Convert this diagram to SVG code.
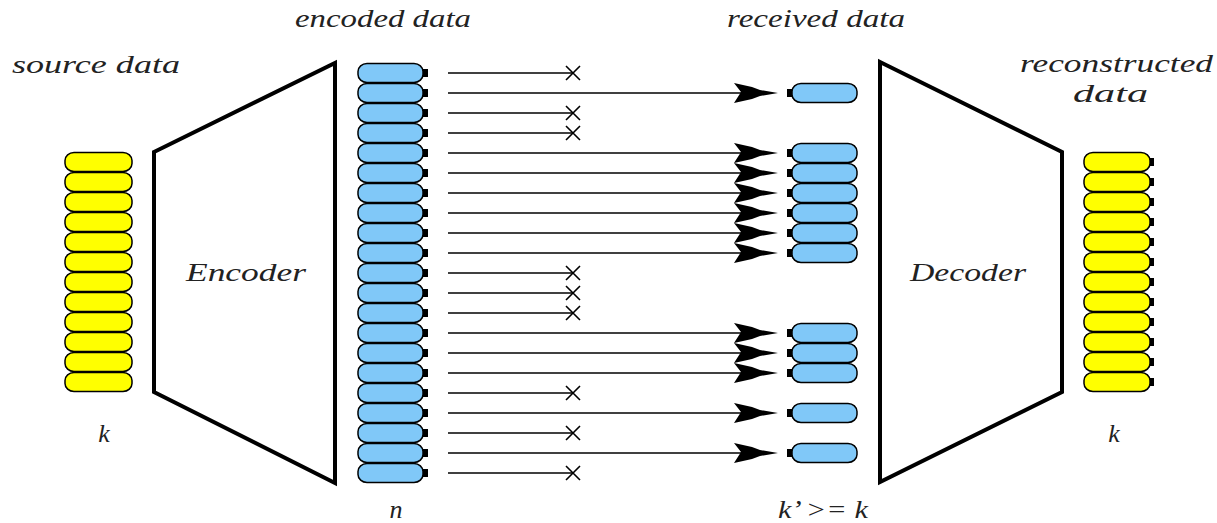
<svg xmlns="http://www.w3.org/2000/svg" xmlns:xlink="http://www.w3.org/1999/xlink" width="1217" height="523" viewBox="0 0 1217 523">
  <style>
    .lbl { font-family: "Liberation Serif", "DejaVu Serif", serif; font-style: italic; font-size: 26px; fill: #222; }
    .box { fill: #fff; stroke: #000; stroke-width: 4; stroke-linejoin: miter; }
    .wire { stroke: #000; stroke-width: 1.6; fill: none; }
    .lost { stroke: #000; stroke-width: 1.6; fill: none; }
  </style>
  <defs>
    <!-- yellow source / reconstructed packet -->
    <g id="ycell">
      <rect x="0" y="0.5" width="67" height="19" rx="9" ry="8" fill="#ffff00" stroke="#000" stroke-width="1.5"/>
    </g>
    <g id="ycellR">
      <rect x="0" y="0.5" width="66" height="19" rx="9" ry="8" fill="#ffff00" stroke="#000" stroke-width="1.5"/>
      <rect x="66" y="6" width="4" height="8" fill="#000"/>
    </g>
    <!-- blue encoded packet, notch on right -->
    <g id="bcellR">
      <rect x="0" y="0.5" width="65" height="19" rx="9" ry="8" fill="#80c8f8" stroke="#000" stroke-width="1.5"/>
      <rect x="65" y="6" width="5" height="8" fill="#000"/>
    </g>
    <!-- blue received packet, notch on left -->
    <g id="bcellL">
      <rect x="0" y="6" width="5" height="8" fill="#000"/>
      <rect x="5" y="0.5" width="65" height="19" rx="9" ry="8" fill="#80c8f8" stroke="#000" stroke-width="1.5"/>
    </g>
    <!-- barbed arrowhead, tip at origin -->
    <polygon id="head" points="0,0 -18,-3 -26,-6 -44,-10 -37,-1 -44,10 -26,6 -18,3" fill="#000"/>
    <!-- cross marking a dropped packet -->
    <path id="cross" d="M-7,-7 L7,7 M-7,7 L7,-7" stroke="#000" stroke-width="1.6" fill="none"/>
  </defs>

  <rect width="1217" height="523" fill="#fff"/>

  <!-- source data -->
  <g id="source-data">
    <text class="lbl" x="12" y="73" textLength="168" lengthAdjust="spacingAndGlyphs">source data</text>
    <use xlink:href="#ycell" x="65" y="152"/>
    <use xlink:href="#ycell" x="65" y="172"/>
    <use xlink:href="#ycell" x="65" y="192"/>
    <use xlink:href="#ycell" x="65" y="212"/>
    <use xlink:href="#ycell" x="65" y="232"/>
    <use xlink:href="#ycell" x="65" y="252"/>
    <use xlink:href="#ycell" x="65" y="272"/>
    <use xlink:href="#ycell" x="65" y="292"/>
    <use xlink:href="#ycell" x="65" y="312"/>
    <use xlink:href="#ycell" x="65" y="332"/>
    <use xlink:href="#ycell" x="65" y="352"/>
    <use xlink:href="#ycell" x="65" y="372"/>
    <text class="lbl" x="104" y="442" text-anchor="middle">k</text>
  </g>

  <!-- encoder -->
  <g id="encoder">
    <polygon class="box" points="154,152 335,63 335,483 154,392"/>
    <text class="lbl" x="246" y="281" text-anchor="middle" textLength="120" lengthAdjust="spacingAndGlyphs">Encoder</text>
  </g>

  <!-- encoded data, n packets -->
  <g id="encoded-data">
    <text class="lbl" x="295" y="27" textLength="176" lengthAdjust="spacingAndGlyphs">encoded data</text>
    <use xlink:href="#bcellR" x="358" y="63"/>
    <use xlink:href="#bcellR" x="358" y="83"/>
    <use xlink:href="#bcellR" x="358" y="103"/>
    <use xlink:href="#bcellR" x="358" y="123"/>
    <use xlink:href="#bcellR" x="358" y="143"/>
    <use xlink:href="#bcellR" x="358" y="163"/>
    <use xlink:href="#bcellR" x="358" y="183"/>
    <use xlink:href="#bcellR" x="358" y="203"/>
    <use xlink:href="#bcellR" x="358" y="223"/>
    <use xlink:href="#bcellR" x="358" y="243"/>
    <use xlink:href="#bcellR" x="358" y="263"/>
    <use xlink:href="#bcellR" x="358" y="283"/>
    <use xlink:href="#bcellR" x="358" y="303"/>
    <use xlink:href="#bcellR" x="358" y="323"/>
    <use xlink:href="#bcellR" x="358" y="343"/>
    <use xlink:href="#bcellR" x="358" y="363"/>
    <use xlink:href="#bcellR" x="358" y="383"/>
    <use xlink:href="#bcellR" x="358" y="403"/>
    <use xlink:href="#bcellR" x="358" y="423"/>
    <use xlink:href="#bcellR" x="358" y="443"/>
    <use xlink:href="#bcellR" x="358" y="463"/>
    <text class="lbl" x="396" y="518" text-anchor="middle">n</text>
  </g>

  <!-- transmission: delivered packets end in arrowheads, dropped ones in a cross -->
  <g id="connectors">
    <line class="lost" x1="448" y1="73" x2="573" y2="73"/><use xlink:href="#cross" x="573" y="73"/>
    <line class="wire" x1="448" y1="93" x2="760" y2="93"/><use xlink:href="#head" x="778" y="93"/>
    <line class="lost" x1="448" y1="113" x2="573" y2="113"/><use xlink:href="#cross" x="573" y="113"/>
    <line class="lost" x1="448" y1="133" x2="573" y2="133"/><use xlink:href="#cross" x="573" y="133"/>
    <line class="wire" x1="448" y1="153" x2="760" y2="153"/><use xlink:href="#head" x="778" y="153"/>
    <line class="wire" x1="448" y1="173" x2="760" y2="173"/><use xlink:href="#head" x="778" y="173"/>
    <line class="wire" x1="448" y1="193" x2="760" y2="193"/><use xlink:href="#head" x="778" y="193"/>
    <line class="wire" x1="448" y1="213" x2="760" y2="213"/><use xlink:href="#head" x="778" y="213"/>
    <line class="wire" x1="448" y1="233" x2="760" y2="233"/><use xlink:href="#head" x="778" y="233"/>
    <line class="wire" x1="448" y1="253" x2="760" y2="253"/><use xlink:href="#head" x="778" y="253"/>
    <line class="lost" x1="448" y1="273" x2="573" y2="273"/><use xlink:href="#cross" x="573" y="273"/>
    <line class="lost" x1="448" y1="293" x2="573" y2="293"/><use xlink:href="#cross" x="573" y="293"/>
    <line class="lost" x1="448" y1="313" x2="573" y2="313"/><use xlink:href="#cross" x="573" y="313"/>
    <line class="wire" x1="448" y1="333" x2="760" y2="333"/><use xlink:href="#head" x="778" y="333"/>
    <line class="wire" x1="448" y1="353" x2="760" y2="353"/><use xlink:href="#head" x="778" y="353"/>
    <line class="wire" x1="448" y1="373" x2="760" y2="373"/><use xlink:href="#head" x="778" y="373"/>
    <line class="lost" x1="448" y1="393" x2="573" y2="393"/><use xlink:href="#cross" x="573" y="393"/>
    <line class="wire" x1="448" y1="413" x2="760" y2="413"/><use xlink:href="#head" x="778" y="413"/>
    <line class="lost" x1="448" y1="433" x2="573" y2="433"/><use xlink:href="#cross" x="573" y="433"/>
    <line class="wire" x1="448" y1="453" x2="760" y2="453"/><use xlink:href="#head" x="778" y="453"/>
    <line class="lost" x1="448" y1="473" x2="573" y2="473"/><use xlink:href="#cross" x="573" y="473"/>
  </g>

  <!-- received data, k' packets -->
  <g id="received-data">
    <text class="lbl" x="727" y="27" textLength="178" lengthAdjust="spacingAndGlyphs">received data</text>
    <use xlink:href="#bcellL" x="787" y="83"/>
    <use xlink:href="#bcellL" x="787" y="143"/>
    <use xlink:href="#bcellL" x="787" y="163"/>
    <use xlink:href="#bcellL" x="787" y="183"/>
    <use xlink:href="#bcellL" x="787" y="203"/>
    <use xlink:href="#bcellL" x="787" y="223"/>
    <use xlink:href="#bcellL" x="787" y="243"/>
    <use xlink:href="#bcellL" x="787" y="323"/>
    <use xlink:href="#bcellL" x="787" y="343"/>
    <use xlink:href="#bcellL" x="787" y="363"/>
    <use xlink:href="#bcellL" x="787" y="403"/>
    <use xlink:href="#bcellL" x="787" y="443"/>
    <text class="lbl" x="778" y="518" textLength="90" lengthAdjust="spacingAndGlyphs">k’ &gt;= k</text>
  </g>

  <!-- decoder -->
  <g id="decoder">
    <polygon class="box" points="880,62 1062,152 1062,392 880,482"/>
    <text class="lbl" x="968" y="281" text-anchor="middle" textLength="116" lengthAdjust="spacingAndGlyphs">Decoder</text>
  </g>

  <!-- reconstructed data -->
  <g id="reconstructed-data">
    <text class="lbl" x="1020" y="72" textLength="193" lengthAdjust="spacingAndGlyphs">reconstructed</text>
    <text class="lbl" x="1073" y="102" textLength="75" lengthAdjust="spacingAndGlyphs">data</text>
    <use xlink:href="#ycellR" x="1084" y="152"/>
    <use xlink:href="#ycellR" x="1084" y="172"/>
    <use xlink:href="#ycellR" x="1084" y="192"/>
    <use xlink:href="#ycellR" x="1084" y="212"/>
    <use xlink:href="#ycellR" x="1084" y="232"/>
    <use xlink:href="#ycellR" x="1084" y="252"/>
    <use xlink:href="#ycellR" x="1084" y="272"/>
    <use xlink:href="#ycellR" x="1084" y="292"/>
    <use xlink:href="#ycellR" x="1084" y="312"/>
    <use xlink:href="#ycellR" x="1084" y="332"/>
    <use xlink:href="#ycellR" x="1084" y="352"/>
    <use xlink:href="#ycellR" x="1084" y="372"/>
    <text class="lbl" x="1114" y="442" text-anchor="middle">k</text>
  </g>
</svg>
